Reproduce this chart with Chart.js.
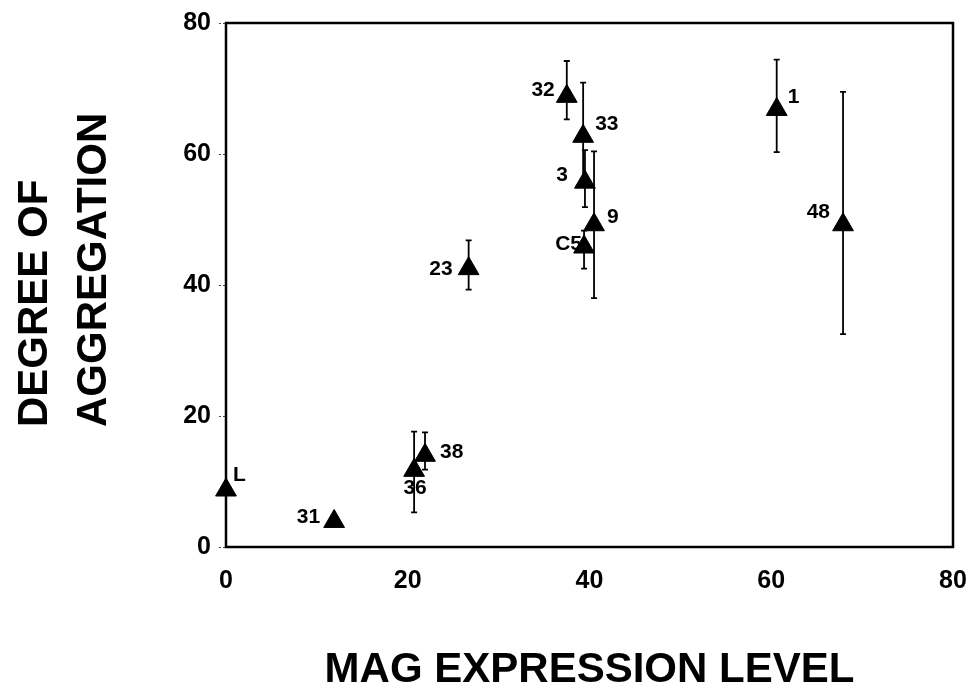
<!DOCTYPE html>
<html>
<head>
<meta charset="utf-8">
<script src="https://cdn.jsdelivr.net/npm/chart.js@4/dist/chart.umd.min.js"></script>
<style>
  html, body { margin: 0; padding: 0; background: #fff; }
  #wrap { width: 979px; height: 696px; }
</style>
</head>
<body>
<div id="wrap"><canvas id="myChart"></canvas></div>
<script>
const names = ["L", "31", "36", "38", "23", "32", "33", "3", "9", "C5", "1", "48"];
const magLevel = [0, 11.9, 20.7, 21.9, 26.7, 37.5, 39.3, 39.5, 40.5, 39.4, 60.6, 67.9];
const aggregation = [8.7, 3.9, 11.7, 14.0, 42.5, 68.8, 62.7, 55.7, 49.2, 45.8, 66.8, 49.2];
const errHigh = [null, null, 17.6, 17.5, 46.8, 74.2, 70.9, 60.6, 60.4, 48.3, 74.4, 69.5];
const errLow = [null, null, 5.3, 11.8, 39.3, 65.3, 56.0, 51.9, 38.0, 42.5, 60.3, 32.5];
const xTicks = [0, 20, 40, 60, 80];
const yTicks = [0, 20, 40, 60, 80];

const FONT = "'Liberation Sans', Arial, sans-serif";

// where each point's name sits relative to its triangle
const labelPos = {
  L: [7, -15, "left"],
  "31": [-14, -4, "right"],
  "36": [1, 18, "center"],
  "38": [15, -3, "left"],
  "23": [-16, 1, "right"],
  "32": [-12, -6, "right"],
  "33": [12, -12, "left"],
  "3": [-17, -7, "right"],
  "9": [13, -8, "left"],
  C5: [-2, -3, "right"],
  "1": [11, -12, "left"],
  "48": [-13, -13, "right"],
};

const points = magLevel.map((x, i) => ({ x: x, y: aggregation[i] }));

const frameAndBars = {
  id: "frameAndBars",
  beforeDatasetsDraw(chart) {
    const { ctx, chartArea: a, scales } = chart;
    ctx.save();
    ctx.strokeStyle = "#000";
    ctx.lineWidth = 1.8;
    for (let i = 0; i < names.length; i++) {
      if (errHigh[i] == null) continue;
      const px = scales.x.getPixelForValue(magLevel[i]);
      const top = scales.y.getPixelForValue(errHigh[i]);
      const bot = scales.y.getPixelForValue(errLow[i]);
      ctx.beginPath();
      ctx.moveTo(px, top);
      ctx.lineTo(px, bot);
      ctx.moveTo(px - 3, top);
      ctx.lineTo(px + 3, top);
      ctx.moveTo(px - 3, bot);
      ctx.lineTo(px + 3, bot);
      ctx.stroke();
    }
    ctx.lineWidth = 2.5;
    ctx.strokeRect(a.left, a.top, a.right - a.left, a.bottom - a.top);
    ctx.restore();
  },
  afterDatasetsDraw(chart) {
    const { ctx, scales } = chart;
    ctx.save();
    ctx.fillStyle = "#000";
    ctx.font = "bold 21px " + FONT;
    ctx.textBaseline = "middle";
    names.forEach((n, i) => {
      const p = labelPos[n];
      ctx.textAlign = p[2];
      ctx.fillText(n, scales.x.getPixelForValue(magLevel[i]) + p[0], scales.y.getPixelForValue(aggregation[i]) + p[1]);
    });
    // two-line y axis title, bottom aligned
    ctx.font = "bold 42px " + FONT;
    ctx.textAlign = "left";
    ctx.translate(0, 427);
    ctx.rotate(-Math.PI / 2);
    ctx.fillText("DEGREE OF", 0, 35);
    ctx.fillText("AGGREGATION", 0, 94);
    ctx.restore();
  },
};

const chart01 = new Chart(document.getElementById("myChart"), {
  type: "scatter",
  data: {
    datasets: [
      {
        data: points,
        clip: false,
        pointStyle: "triangle",
        pointRadius: 12,
        pointHoverRadius: 12,
        backgroundColor: "#000",
        borderColor: "#000",
        borderWidth: 1,
      },
    ],
  },
  options: {
    responsive: true,
    maintainAspectRatio: false,
    animation: false,
    layout: { padding: { top: 20, right: 26, bottom: 0, left: 0 } },
    plugins: {
      legend: { display: false },
      tooltip: { enabled: false },
    },
    scales: {
      x: {
        type: "linear",
        min: 0,
        max: 80,
        afterBuildTicks: (s) => { s.ticks = xTicks.map((v) => ({ value: v })); },
        afterFit: (s) => { s.height = 149; },
        border: { display: false },
        grid: { display: false },
        ticks: { color: "#000", padding: 11, font: { family: FONT, size: 25, weight: "bold" } },
        title: {
          display: true,
          text: "MAG EXPRESSION LEVEL",
          color: "#000",
          padding: { bottom: 0 },
          font: { family: FONT, size: 42, weight: "bold" },
        },
      },
      y: {
        type: "linear",
        min: 0,
        max: 80,
        afterBuildTicks: (s) => { s.ticks = yTicks.map((v) => ({ value: v })); },
        afterFit: (s) => { s.width = 226; },
        border: { display: false },
        grid: { drawOnChartArea: false, tickLength: 7, color: "#444", tickBorderDash: [2, 2] },
        ticks: { color: "#000", padding: 8, font: { family: FONT, size: 25, weight: "bold" } },
      },
    },
  },
  plugins: [frameAndBars],
});
</script>
</body>
</html>
